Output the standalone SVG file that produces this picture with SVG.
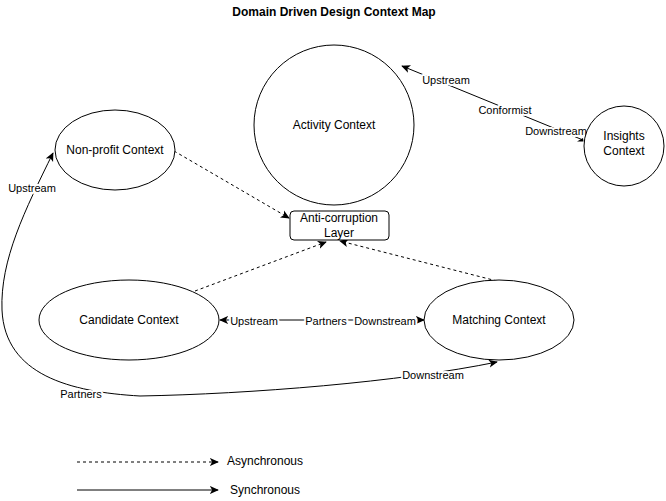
<svg xmlns="http://www.w3.org/2000/svg" width="666" height="501" viewBox="0 0 666 501">
<defs>
<marker id="arr" viewBox="0 0 10 10" refX="9" refY="5" markerWidth="9" markerHeight="9" markerUnits="userSpaceOnUse" orient="auto-start-reverse">
<path d="M0,0.5 L10,5 L0,9.5 L2.5,5 z" fill="#000"/>
</marker>
<style>
.shape{fill:#fff;stroke:#000;stroke-width:1}
.t{font-family:"Liberation Sans",Arial,sans-serif;font-size:12px;fill:#000;text-anchor:middle}
.lbl{font-family:"Liberation Sans",Arial,sans-serif;font-size:11px;fill:#000;text-anchor:middle;stroke:#fff;stroke-width:4;paint-order:stroke;stroke-linejoin:round}
.c{fill:none;stroke:#000;stroke-width:1}
.d{stroke-dasharray:3,3}
</style>
</defs>
<rect width="666" height="501" fill="#fff"/>
<text class="t" x="334" y="16" style="font-weight:bold">Domain Driven Design Context Map</text>

<g id="connectors">
<path class="c" d="M583,140 L402,66" marker-end="url(#arr)"/>
<path d="M577,141.5 L583,138 L583.5,141.5 z" fill="#000"/>
<path class="c d" d="M174,151 L289,218" marker-end="url(#arr)"/>
<path class="c d" d="M195,291 L326,242" marker-end="url(#arr)"/>
<path class="c d" d="M497,281 L340,241" marker-end="url(#arr)"/>
<path class="c" d="M220,320 L424,320" marker-start="url(#arr)" marker-end="url(#arr)"/>
<path class="c" d="M53,153 C25,210 0,260 2,310 C5,375 70,392 140,396 C250,394 400,382 497,362" marker-start="url(#arr)" marker-end="url(#arr)"/>
<path class="c d" d="M77,462 L218,462" marker-end="url(#arr)"/>
<path class="c" d="M77,490 L218,490" marker-end="url(#arr)"/>
<text class="lbl" x="446" y="84">Upstream</text>
<text class="lbl" x="505" y="114">Conformist</text>
<text class="lbl" x="556" y="135">Downstream</text>
<text class="lbl" x="254" y="325">Upstream</text>
<text class="lbl" x="326" y="325">Partners</text>
<text class="lbl" x="385" y="325">Downstream</text>
<text class="lbl" x="32" y="192">Upstream</text>
<text class="lbl" x="81" y="398">Partners</text>
<text class="lbl" x="433" y="379">Downstream</text>
</g>

<g id="activity"><circle class="shape" cx="334" cy="125" r="80"/><text class="t" x="334" y="129">Activity Context</text></g>
<g id="insights"><circle class="shape" cx="624" cy="146" r="40"/><text class="t" x="624" y="140">Insights</text><text class="t" x="624" y="155">Context</text></g>
<g id="nonprofit"><ellipse class="shape" cx="115" cy="150" rx="60" ry="40"/><text class="t" x="115" y="154">Non-profit Context</text></g>
<g id="acl"><rect class="shape" x="290" y="211" width="99" height="29" rx="4"/><text class="t" x="339" y="222">Anti-corruption</text><text class="t" x="339" y="237">Layer</text></g>
<g id="candidate"><ellipse class="shape" cx="129" cy="320" rx="90" ry="40"/><text class="t" x="129" y="324">Candidate Context</text></g>
<g id="matching"><ellipse class="shape" cx="499" cy="320" rx="75" ry="40"/><text class="t" x="499" y="324">Matching Context</text></g>
<g id="legend">
<text class="t" x="265" y="465">Asynchronous</text>
<text class="t" x="265" y="494">Synchronous</text>
</g>
</svg>
